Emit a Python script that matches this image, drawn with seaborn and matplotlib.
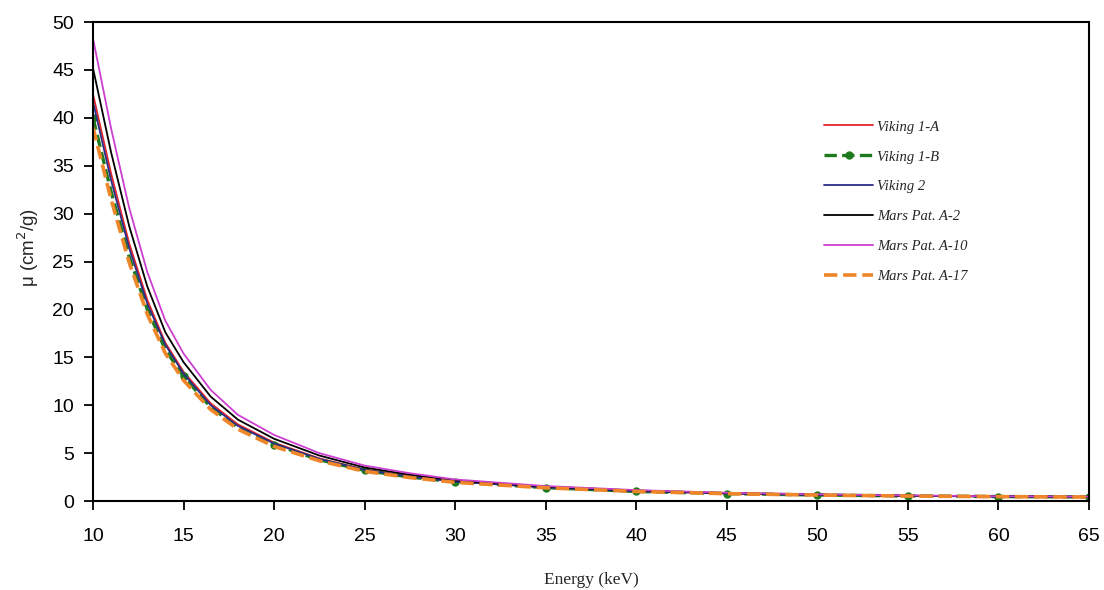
import numpy as np
import pandas as pd
import matplotlib
matplotlib.use('Agg')
import matplotlib.pyplot as plt
import seaborn as sns

# Energy grid (keV) and mass attenuation coefficients (cm2/g)
energy = [10, 11, 12, 13, 14, 15, 16.5, 18, 20, 22.5, 25, 27.5,
          30, 35, 40, 45, 50, 55, 60, 65]

viking_1a = [42.5, 34.2, 26.9, 21.0, 16.5, 13.5, 10.2, 8.0, 6.1, 4.45, 3.3, 2.6,
             2.05, 1.45, 1.05, 0.80, 0.65, 0.55, 0.48, 0.43]
viking_1b = [40.0, 32.3, 25.5, 20.0, 15.8, 13.0, 9.8, 7.7, 5.9, 4.3, 3.2, 2.5,
             2.00, 1.40, 1.00, 0.78, 0.63, 0.53, 0.47, 0.42]
viking_2 = [41.7, 33.5, 26.4, 20.6, 16.3, 13.3, 10.0, 7.85, 6.0, 4.4, 3.25, 2.55,
            2.02, 1.42, 1.03, 0.79, 0.64, 0.54, 0.47, 0.42]
mars_a2 = [45.2, 36.4, 28.7, 22.4, 17.6, 14.5, 10.9, 8.5, 6.5, 4.75, 3.5, 2.75,
           2.15, 1.50, 1.10, 0.83, 0.67, 0.56, 0.49, 0.44]
mars_a10 = [48.3, 38.9, 30.6, 23.9, 18.8, 15.4, 11.6, 9.0, 6.9, 5.0, 3.7, 2.9,
            2.25, 1.56, 1.14, 0.86, 0.69, 0.58, 0.50, 0.45]
mars_a17 = [39.0, 31.5, 24.9, 19.5, 15.4, 12.6, 9.55, 7.5, 5.7, 4.2, 3.1, 2.45,
            1.95, 1.38, 1.00, 0.77, 0.62, 0.52, 0.46, 0.41]

series_names = ['Viking 1-A', 'Viking 1-B', 'Viking 2',
                'Mars Pat. A-2', 'Mars Pat. A-10', 'Mars Pat. A-17']
series_values = [viking_1a, viking_1b, viking_2, mars_a2, mars_a10, mars_a17]

x_ticks = list(range(10, 70, 5))
y_ticks = list(range(0, 55, 5))

df = pd.DataFrame({
    'Energy': np.tile(energy, len(series_names)),
    'mu': np.concatenate(series_values),
    'Sample': np.repeat(series_names, len(energy)),
})

sns.set_style('white')
plt.rcParams['font.family'] = ['Liberation Sans', 'DejaVu Sans']

styles = {
    'Viking 1-A':     dict(color='#e3242b', linestyle='-',  linewidth=1.3),
    'Viking 1-B':     dict(color='#1e7a1e', linestyle='--', linewidth=2.4),
    'Viking 2':       dict(color='#2a2c86', linestyle='-',  linewidth=1.3),
    'Mars Pat. A-2':  dict(color='#000000', linestyle='-',  linewidth=1.3),
    'Mars Pat. A-10': dict(color='#cc3fd0', linestyle='-',  linewidth=1.3),
    'Mars Pat. A-17': dict(color='#f0862a', linestyle='--', linewidth=2.6),
}

fig = plt.figure(figsize=(11.04, 5.90), dpi=100)
ax = fig.add_axes([0.0842, 0.1508, 0.9022, 0.8119])

for name in series_names:
    sub = df[df['Sample'] == name]
    st = styles[name]
    if name == 'Viking 1-B':
        # markers only at the tabulated 5 keV points
        marks = [i for i, e in enumerate(sub['Energy']) if e % 5 == 0]
        sns.lineplot(data=sub, x='Energy', y='mu', ax=ax, label=name,
                     marker='o', markersize=6, markeredgewidth=0,
                     markevery=marks, **st)
    else:
        sns.lineplot(data=sub, x='Energy', y='mu', ax=ax, label=name, **st)

ax.set_xlim(10, 65)
ax.set_ylim(0, 50)
ax.set_xticks(x_ticks)
ax.set_yticks(y_ticks)
ax.tick_params(axis='both', direction='out', length=6.5, width=1.3,
               labelsize=14, colors='black', left=True, bottom=True)
ax.tick_params(axis='x', pad=13)
ax.tick_params(axis='y', pad=7)
for sp in ax.spines.values():
    sp.set_visible(True)
    sp.set_color('black')
    sp.set_linewidth(1.5)

ax.set_xlabel('Energy (keV)', fontsize=12.5, family=['Liberation Serif', 'DejaVu Serif'], labelpad=19)
ax.set_ylabel('μ (cm$^2$/g)', fontsize=13.5)
ax.yaxis.set_label_coords(-0.052, 0.53)

leg = ax.legend(loc='upper left', bbox_to_anchor=(0.7265, 0.81), frameon=False,
                handlelength=3.4, labelspacing=1.15, handletextpad=0.25, borderpad=0,
                prop={'family': ['Liberation Serif', 'DejaVu Serif'], 'style': 'italic', 'size': 10.5})

fig.savefig('out.png', dpi=100)
